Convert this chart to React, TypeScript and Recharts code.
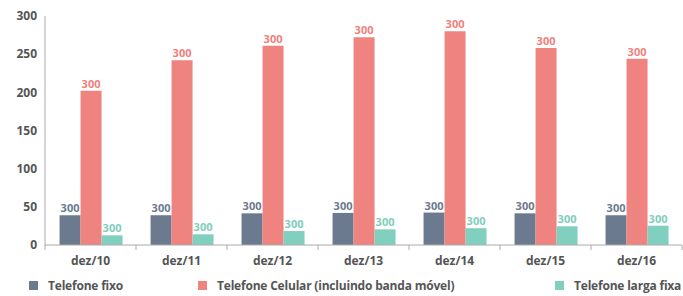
import { BarChart, Bar, XAxis, YAxis, LabelList } from 'recharts';

const categories = ['dez/10', 'dez/11', 'dez/12', 'dez/13', 'dez/14', 'dez/15', 'dez/16'];
const fixo = [39, 39, 41.5, 42, 42.5, 41.5, 39];
const celular = [202, 242, 261, 272, 280, 258, 244];
const largaFixa = [12.7, 14, 18.3, 20.5, 22, 24.5, 25.3];
const barLabels = ['300', '300', '300', '300', '300', '300', '300'];
const yTicks = [0, 50, 100, 150, 200, 250, 300];

const series = [
  { key: 'fixo', name: 'Telefone fixo', color: '#6b7a8f', labelColor: '#6b7a8f' },
  { key: 'celular', name: 'Telefone Celular (incluindo banda móvel)', color: '#ef8380', labelColor: '#ef7f7c' },
  { key: 'larga', name: 'Telefone larga fixa', color: '#80cfbf', labelColor: '#7fcdbd' },
];

const data = categories.map((cat, i) => ({
  cat,
  fixo: fixo[i],
  celular: celular[i],
  larga: largaFixa[i],
  label: barLabels[i],
}));

const W = 683;
const H = 270;
const LEFT = 45;
const RIGHT = 1;
const band = (W - LEFT - RIGHT) / categories.length;
const font = '"Open Sans", sans-serif';

function XTick(props: any) {
  const { x, y, payload, index } = props;
  const half = band / 2;
  return (
    <g>
      <line x1={x - half} x2={x - half} y1={y - 8} y2={y - 3} stroke="#aaa" />
      {index === categories.length - 1 && (
        <line x1={x + half} x2={x + half} y1={y - 8} y2={y - 3} stroke="#aaa" />
      )}
      <text x={x} y={y + 12} textAnchor="middle" fill="#555" fontSize={12} fontWeight={700} fontFamily={font}>
        {payload.value}
      </text>
    </g>
  );
}

const legendLeft = [29, 198, 555];

export default function App() {
  return (
    <div style={{ position: 'absolute', left: 0, top: 0, width: W, height: 296, background: '#fff' }}>
      <BarChart
        width={W}
        height={H}
        data={data}
        margin={{ top: 16, right: RIGHT, left: 0, bottom: 0 }}
        barCategoryGap="16%"
        barGap={0}
      >
        <XAxis
          dataKey="cat"
          height={25}
          axisLine={{ stroke: '#aaa' }}
          tickLine={false}
          tick={<XTick />}
          interval={0}
        />
        <YAxis
          width={LEFT}
          domain={[0, 300]}
          ticks={yTicks}
          axisLine={{ stroke: '#aaa' }}
          tickLine={false}
          tick={{ fill: '#555', fontSize: 12, fontWeight: 700, fontFamily: font }}
        />
        {series.map((s) => (
          <Bar key={s.key} dataKey={s.key} name={s.name} fill={s.color} isAnimationActive={false}>
            <LabelList
              dataKey="label"
              position="top"
              offset={3}
              fill={s.labelColor}
              fontSize={11}
              fontWeight={700}
              fontFamily={font}
            />
          </Bar>
        ))}
      </BarChart>
      {series.map((s, i) => (
        <div
          key={s.key}
          style={{
            position: 'absolute',
            left: legendLeft[i],
            top: 277,
            display: 'flex',
            alignItems: 'center',
            fontFamily: font,
            fontSize: 12,
            fontWeight: 700,
            letterSpacing: -0.2,
            color: '#555',
            whiteSpace: 'nowrap',
          }}
        >
          <span style={{ display: 'inline-block', width: 9, height: 9, background: s.color, marginRight: 10 }} />
          {s.name}
        </div>
      ))}
    </div>
  );
}
